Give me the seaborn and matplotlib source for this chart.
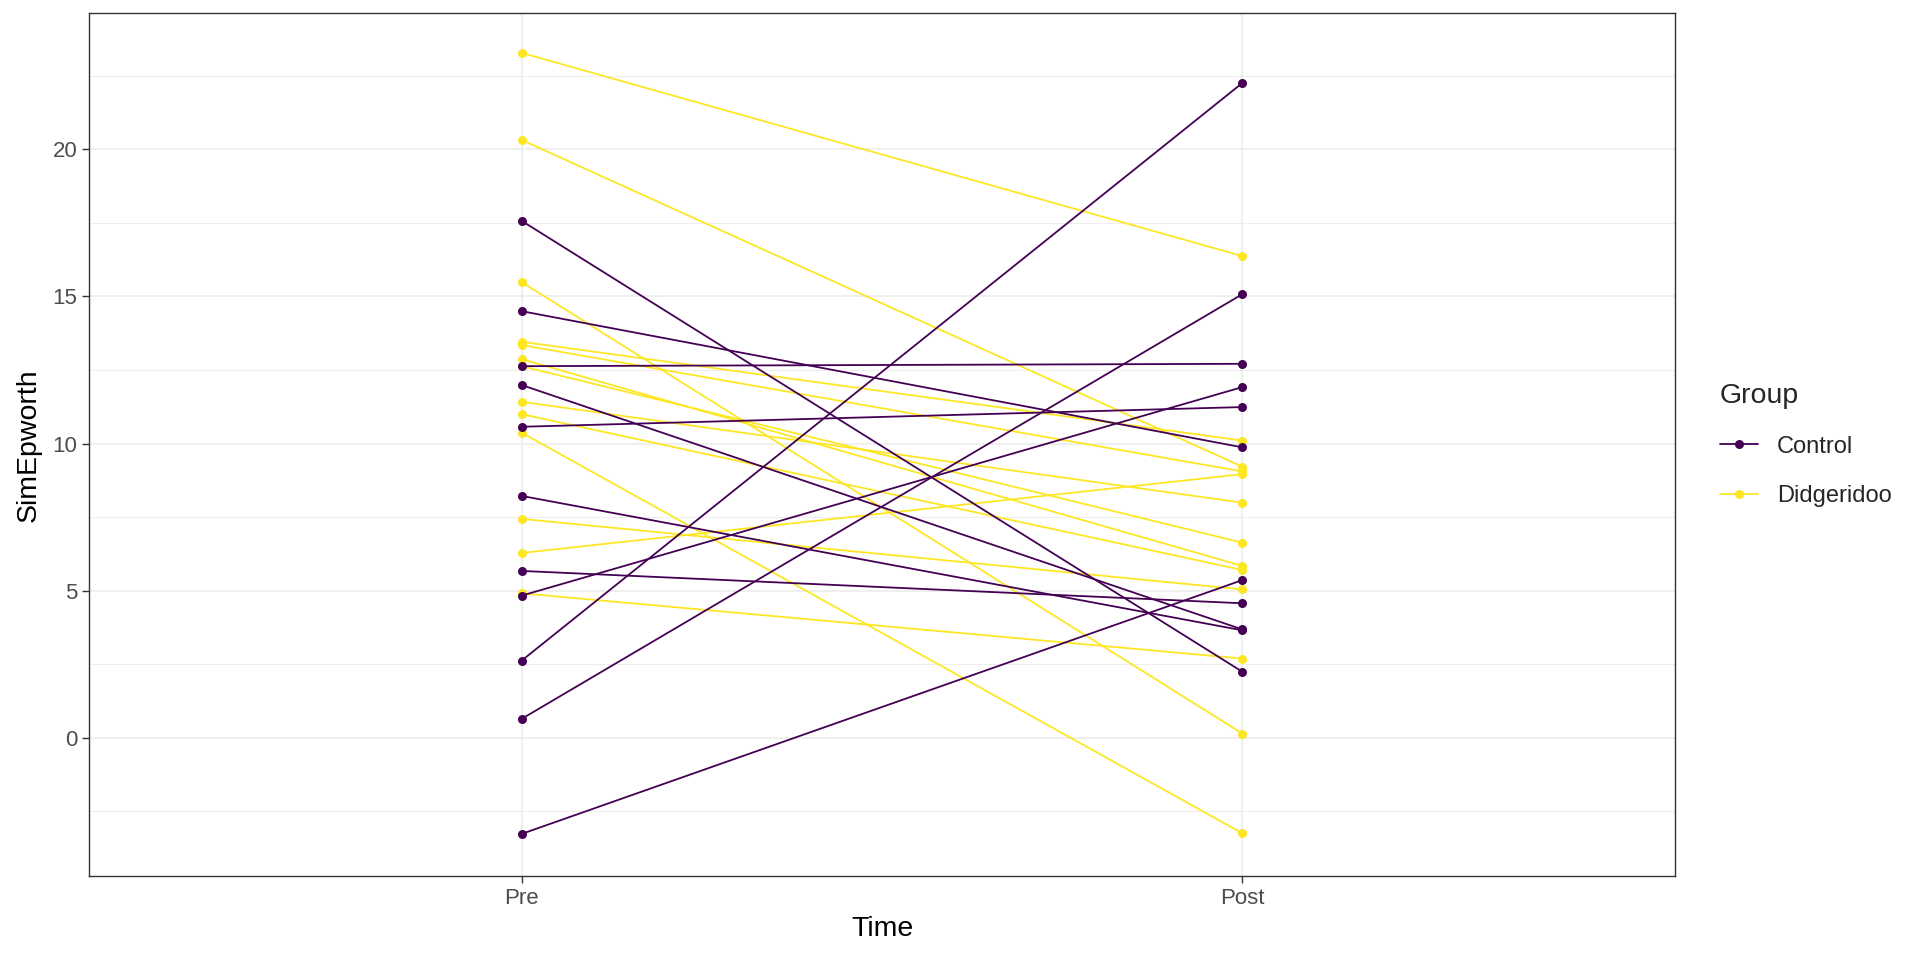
import pandas as pd
import matplotlib.pyplot as plt
import seaborn as sns
from matplotlib.ticker import MultipleLocator

# plot setting
sns.set_theme(style='white')
plt.rcParams['font.family'] = ['Liberation Sans', 'DejaVu Sans']

# --- data: one row per subject ---
subject = list(range(1, 25))
group = ['Control'] * 11 + ['Didgeridoo'] * 13
pre = [17.57, 14.50, 12.63, 11.99, 10.57, 8.22, 5.67, 4.83, 2.62, 0.64, -3.27,
       23.28, 20.32, 15.49, 13.46, 13.35, 12.87, 12.63, 11.42, 11.00, 10.37, 7.44, 6.28, 4.91]
post = [2.24, 9.87, 12.71, 3.68, 11.24, 3.65, 4.57, 11.92, 22.26, 15.08, 5.36,
        16.37, 9.21, 0.14, 10.10, 9.05, 5.84, 6.63, 7.99, 5.70, -3.25, 5.04, 8.96, 2.69]
time_levels = ['Pre', 'Post']
group_levels = ['Control', 'Didgeridoo']
colors = {'Control': '#440154', 'Didgeridoo': '#FDE725'}

wide = pd.DataFrame({'ID': subject, 'Group': group, 'Pre': pre, 'Post': post})
df = wide.melt(id_vars=['ID', 'Group'], value_vars=time_levels,
               var_name='Time', value_name='SimEpworth')

fig = plt.figure(figsize=(19.2, 9.6), dpi=100)
ax = fig.add_axes([0.0464, 0.0875, 0.826, 0.8985])

sns.lineplot(data=df, x='Time', y='SimEpworth', hue='Group', hue_order=group_levels,
             units='ID', estimator=None, sort=False, palette=colors,
             marker='o', markersize=6.5, markeredgewidth=0, linewidth=1.3, ax=ax)

# control lines sit on top like in the original
for ln in ax.lines:
    if ln.get_color() == colors['Control']:
        ln.set_zorder(3)

# axes look (ggplot theme_bw style)
ax.set_xlim(-0.6, 1.6)
ax.set_ylim(-4.7, 24.62)
ax.yaxis.set_major_locator(MultipleLocator(5))
ax.yaxis.set_minor_locator(MultipleLocator(2.5))
ax.grid(True, which='major', color='#EBEBEB', linewidth=1.1)
ax.grid(True, which='minor', axis='y', color='#EBEBEB', linewidth=0.6)
ax.set_axisbelow(True)
for sp in ax.spines.values():
    sp.set_color('#333333')
    sp.set_linewidth(1.0)
ax.tick_params(axis='both', which='major', length=5, width=1, color='#333333',
               labelsize=16, labelcolor='#4D4D4D', bottom=True, left=True)
ax.tick_params(axis='y', which='minor', length=0)
ax.set_xlabel('Time', fontsize=20.5, color='black', labelpad=5)
ax.set_ylabel('SimEpworth', fontsize=20.5, color='black', labelpad=8)

# legend outside on the right
handles, labels = ax.get_legend_handles_labels()
ax.legend(handles, labels, title='Group', loc='center left',
          bbox_to_anchor=(1.015, 0.5), frameon=False, fontsize=17,
          title_fontsize=20.5, handlelength=1.6, handletextpad=0.8,
          labelspacing=1.15, alignment='left')

plt.savefig('out.png', dpi=100)
plt.close()
